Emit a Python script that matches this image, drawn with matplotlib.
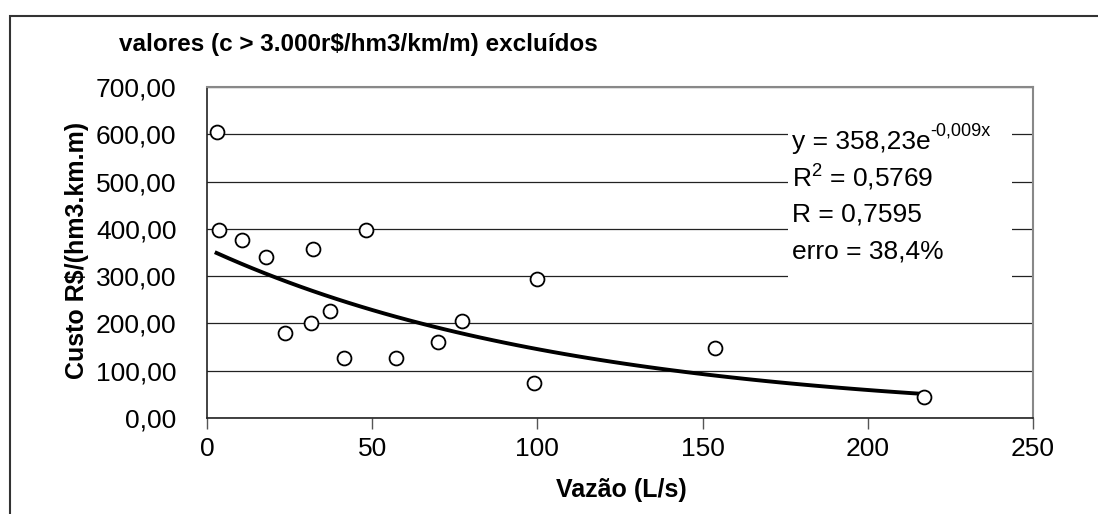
import matplotlib
matplotlib.use("Agg")
import matplotlib.pyplot as plt
from matplotlib.patches import Rectangle
from matplotlib.ticker import FuncFormatter
import numpy as np

plt.rcParams['font.family'] = ['Liberation Sans', 'DejaVu Sans']
plt.rcParams['mathtext.default'] = 'regular'

# dados
vazao = [2.9, 3.7, 10.7, 17.9, 23.7, 32.0, 31.5, 37.2, 41.5, 48.1,
         57.2, 70.0, 77.2, 99.8, 99.0, 153.8, 217.0]
custo = [605, 398, 376, 341, 179, 358, 201, 227, 127, 398,
         127, 161, 206, 293, 75, 149, 45]

# linha de tendencia exponencial (coeficientes do grafico)
coef_a = 358.23
coef_b = -0.009
eq_lines = ['y = 358,23e', r'R$^{2}$ = 0,5769', 'R = 0,7595', 'erro = 38,4%']
eq_expoente = '-0,009x'

fig = plt.figure(figsize=(10.98, 5.14), dpi=100)
ax = fig.add_axes([207/1098, 1 - 418/514, (1033 - 207)/1098, (418 - 87)/514])

ax.set_xlim(0, 250)
ax.set_ylim(0, 700)
ax.set_xticks(np.arange(0, 251, 50))
ax.set_yticks(np.arange(0, 701, 100))
ax.yaxis.set_major_formatter(FuncFormatter(lambda v, p: f"{v:.2f}".replace('.', ',')))
ax.tick_params(axis='x', direction='out', length=8, width=1, labelsize=19, pad=6, color='#555555')
ax.tick_params(axis='y', length=0, labelsize=19, pad=22)
ax.grid(axis='y', color='#222222', lw=0.9)
ax.set_axisbelow(True)
for s in ['top', 'right']:
    ax.spines[s].set_color('#888888')
    ax.spines[s].set_linewidth(1.5)
for s in ['left', 'bottom']:
    ax.spines[s].set_color('#222222')
    ax.spines[s].set_linewidth(1.2)

xs = np.linspace(min(vazao), max(vazao), 60)
ax.plot(xs, coef_a * np.exp(coef_b * xs), color='black', lw=2.8, zorder=3)
ax.plot(vazao, custo, 'o', mfc='white', mec='black', ms=10, mew=1.3, zorder=4)

ax.add_patch(Rectangle((0.703, 0.387), 0.272, 0.498, transform=ax.transAxes,
                       facecolor='white', edgecolor='none', zorder=2.5))
textos = []
for i, t in enumerate(eq_lines):
    textos.append(ax.text(0.708, 0.834 - i * 0.11, t, transform=ax.transAxes, fontsize=19,
                          va='center', ha='left', zorder=5))
ax.annotate(eq_expoente, xy=(1, 0.62), xycoords=textos[0], fontsize=13,
            va='bottom', ha='left', zorder=5)

fig.text(119/1098, 1 - 45/514, 'valores (c > 3.000r$/hm3/km/m) excluídos',
         fontsize=17.5, fontweight='bold', va='center', ha='left')
fig.text(621/1098, 1 - 490/514, 'Vazão (L/s)', fontsize=18, fontweight='bold',
         va='center', ha='center')
fig.text(77/1098, 1 - 250/514, 'Custo R$/(hm3.km.m)', fontsize=18, fontweight='bold',
         va='center', ha='center', rotation=90)

fig.add_artist(Rectangle((10/1098, -0.05), 1.1, 1 - 16/514 + 0.05, transform=fig.transFigure,
                         facecolor='none', edgecolor='#333333', lw=1.5))

fig.savefig('out.png', dpi=100)
